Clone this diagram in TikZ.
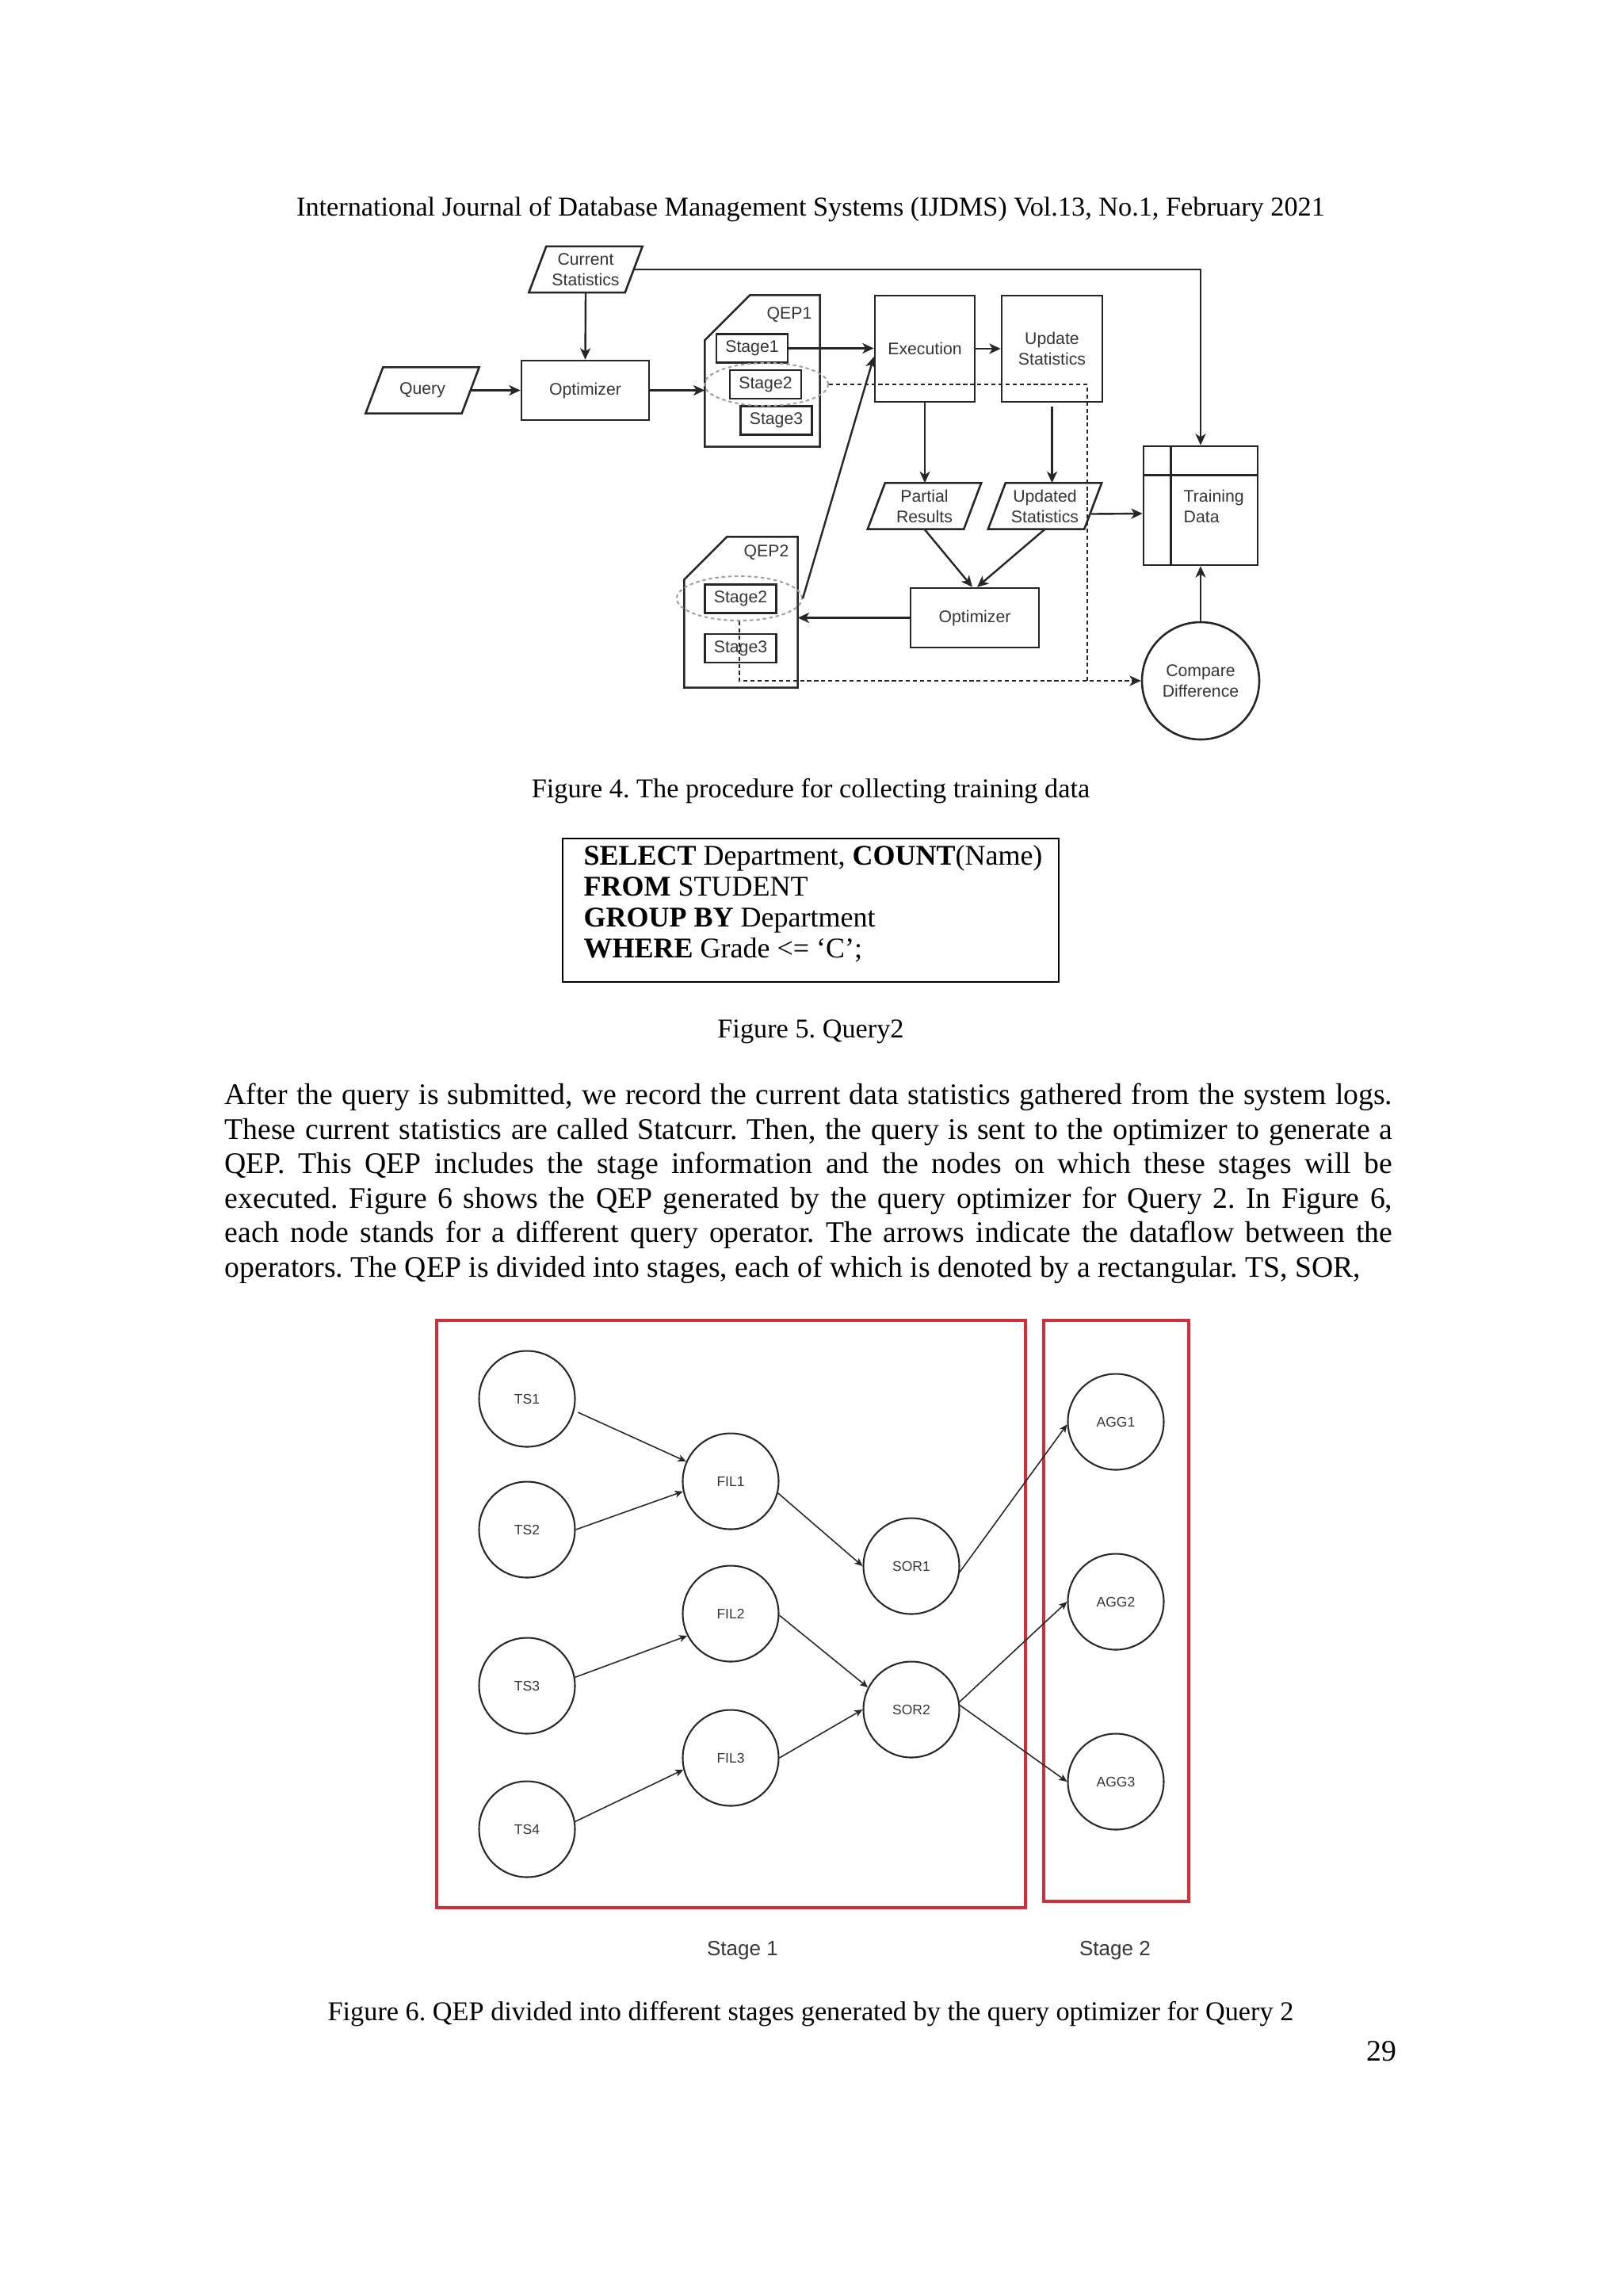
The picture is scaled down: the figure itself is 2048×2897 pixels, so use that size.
\documentclass[tikz,border=0pt]{standalone}
\usepackage{fontspec}
\setmainfont{Liberation Serif}
\newfontfamily\arial{Liberation Sans}
\usetikzlibrary{arrows.meta,calc,shapes.geometric,shadows}
\newdimen\pxu \pxu=0.102539mm
\definecolor{ink}{HTML}{262626}
\definecolor{lbl}{HTML}{363636}
\definecolor{redbox}{RGB}{205,50,60}
\newcommand\drawpara[1]{\draw[boxline] ($(#1.north west)+(11,0)$) -- ($(#1.north east)+(11,0)$) -- ($(#1.south east)+(-11,0)$) -- ($(#1.south west)+(-11,0)$) -- cycle;}
\frenchspacing
\begin{document}
\frenchspacing
\begin{tikzpicture}[x=0.102539mm, y=-0.102539mm,
  f4/.style={font=\arial\fontsize{6.2pt}{7.6pt}\selectfont, text=lbl},
  boxline/.style={draw=ink, line width=0.75pt},
  box/.style={f4, boxline, rectangle, inner sep=0pt, align=center},
  paranode/.style={f4, rectangle, inner sep=0pt, minimum width=120*\pxu, minimum height=57*\pxu, align=center},
  stagebox/.style={box, minimum width=90*\pxu, minimum height=36*\pxu},
  dellipse/.style={ellipse, draw=gray!75, line width=0.6pt, dash pattern=on 1.3pt off 1.1pt, inner sep=0pt},
  arr/.style={draw=ink, line width=0.7pt, -{Stealth[length=4.2pt,width=3.8pt,inset=1.2pt]}},
  dline/.style={draw=ink, line width=0.6pt, dash pattern=on 1.5pt off 1.1pt},
  opnode/.style={circle, draw=ink, line width=0.6pt, minimum size=121*\pxu, inner sep=0pt, font=\arial\fontsize{5.1pt}{6pt}\selectfont, text=lbl},
  a6/.style={draw=ink, line width=0.45pt, -{Stealth[length=3pt,width=2.6pt,inset=0.8pt]}},
  stagered/.style={draw=redbox, line width=1.2pt, fill=white, inner sep=0pt, drop shadow={shadow xshift=1pt, shadow yshift=-1pt, opacity=0.22}},
  bodyfont/.style={font=\fontsize{11pt}{12.65pt}\selectfont\frenchspacing, inner sep=0pt},
  capfont/.style={font=\fontsize{10pt}{11.5pt}\selectfont\frenchspacing, inner sep=0pt},
  sqlfont/.style={font=\fontsize{10.5pt}{11.2pt}\selectfont, inner sep=0pt}
]
\fill[white] (0,0) rectangle (2048,2897);
\useasboundingbox (0,0) rectangle (2048,2897);

% header
\node[capfont, anchor=base] (header) at (1023,272) {International Journal of Database Management Systems (IJDMS) Vol.13, No.1, February 2021};

% ---------------- Figure 4 ----------------
\node[paranode] (cur) at (739,340) {Current\\Statistics};
\drawpara{cur}
\node[paranode] (query) at (533,492.5) {Query};
\drawpara{query}
\node[box, minimum width=161*\pxu, minimum height=75*\pxu] (opt1) at (738.5,492.5) {Optimizer};

\node[rectangle, inner sep=0pt, minimum width=144*\pxu, minimum height=190*\pxu] (qep1) at (962,468) {};
\draw[boxline] ($(qep1.north west)+(57,0)$) -- (qep1.north east) -- (qep1.south east) -- (qep1.south west) -- ($(qep1.north west)+(0,57)$) -- cycle;
\node[f4] (qep1lbl) at (996,397) {QEP1};
\node[stagebox] (s11) at (949,439.5) {Stage1};
\node[stagebox] (s12) at (966,485) {Stage2};
\node[stagebox] (s13) at (979.5,530.5) {Stage3};
\node[dellipse, minimum width=156*\pxu, minimum height=54*\pxu] (el1) at (967,485) {};

\node[box, minimum width=126*\pxu, minimum height=134*\pxu] (exec) at (1167,440) {Execution};
\node[box, minimum width=127*\pxu, minimum height=134*\pxu] (updst) at (1327.5,440) {Update\\Statistics};

\node[paranode] (part) at (1166.5,638.5) {Partial\\Results};
\drawpara{part}
\node[paranode] (upd) at (1318.5,638.5) {Updated\\Statistics};
\drawpara{upd}

\node[box, minimum width=162*\pxu, minimum height=75*\pxu] (opt2) at (1230,779.5) {Optimizer};

\node[rectangle, inner sep=0pt, minimum width=142*\pxu, minimum height=189*\pxu] (qep2) at (935,772.5) {};
\draw[boxline] ($(qep2.north west)+(54,0)$) -- (qep2.north east) -- (qep2.south east) -- (qep2.south west) -- ($(qep2.north west)+(0,54)$) -- cycle;
\node[f4] (qep2lbl) at (967,697) {QEP2};
\node[stagebox] (s22) at (934.5,755.5) {Stage2};
\node[stagebox] (s23) at (934.5,818) {Stage3};
\node[dellipse, minimum width=158*\pxu, minimum height=56*\pxu] (el2) at (933,755) {};

\node[box, minimum width=144*\pxu, minimum height=150*\pxu] (train) at (1515,638) {};
\draw[boxline] ($(train.north west)+(36,0)$) -- ($(train.south west)+(36,0)$);
\draw[boxline] ($(train.north west)+(0,38)$) -- ($(train.north east)+(0,38)$);
\node[f4, anchor=west, align=left, inner sep=0pt] (trainlbl) at (1493,639) {Training\\Data};

\node[box, circle, minimum size=148*\pxu] (cmp) at (1515,859) {Compare\\Difference};

\coordinate (dc) at (1372,485);
\coordinate (dj) at (1372,859);

% connectors
\draw[arr] (cur.south) -- (opt1.north);
\draw[arr] (query.east) -- (opt1.west);
\draw[arr] (opt1.east) -- (opt1.east -| qep1.west);
\draw[arr] (cur.east) -| (train.north);
\draw[arr] (s11.east) -- (s11.east -| exec.west);
\draw[arr] (exec.east) -- (updst.west);
\draw[arr] (exec.south) -- (exec.south |- part.north);
\draw[arr, shorten <=1.5pt] (updst.south) -- (updst.south |- upd.north);
\draw[arr] (part.south) -- ($(opt2.north)+(-3,0)$);
\draw[arr] (upd.south) -- ($(opt2.north)+(3,0)$);
\draw[arr] ($(upd.east)+(-2,10)$) -- ($(train.west)+(0,10)$);
\draw[arr] (opt2.west) -- (opt2.west -| qep2.east);
\draw[arr] (el2.east) -- ($(exec.west)+(0,10)$);
\draw[arr] (cmp.north) -- (train.south);
\draw[dline] (el1.east) -- (dc) -- (dj);
\draw[dline, -{Stealth[length=4.2pt,width=3.8pt,inset=1.2pt]}] (el2.south) -- (el2.south |- dj) -- (cmp.west);

\node[capfont, anchor=base] (cap4) at (1023,1006) {Figure 4. The procedure for collecting training data};

% ---------------- Figure 5 ----------------
\node[draw=black, line width=0.8pt, minimum width=626*\pxu, minimum height=181*\pxu, inner sep=0pt] (sql) at (1023,1148.5) {};
\node[sqlfont, anchor=base west] (q1) at (736,1091) {\textbf{SELECT} Department, \textbf{COUNT}(Name)};
\node[sqlfont, anchor=base west] (q2) at (736,1130) {\textbf{FROM} STUDENT};
\node[sqlfont, anchor=base west] (q3) at (736,1169) {\textbf{GROUP BY} Department};
\node[sqlfont, anchor=base west] (q4) at (736,1208) {\textbf{WHERE} Grade <= ‘C’;};
\node[capfont, anchor=base] (cap5) at (1023,1309) {Figure 5. Query2};

% ---------------- body text ----------------
\node[bodyfont, anchor=base west] (b1) at (283,1393) {\makebox[429.9pt][s]{After the query is submitted, we record the current data statistics gathered from the system logs.}};
\node[bodyfont, anchor=base west] (b2) at (283,1437) {\makebox[429.9pt][s]{These current statistics are called Statcurr. Then, the query is sent to the optimizer to generate a}};
\node[bodyfont, anchor=base west] (b3) at (283,1480) {\makebox[429.9pt][s]{QEP. This QEP includes the stage information and the nodes on which these stages will be}};
\node[bodyfont, anchor=base west] (b4) at (283,1524) {\makebox[429.9pt][s]{executed. Figure 6 shows the QEP generated by the query optimizer for Query 2. In Figure 6,}};
\node[bodyfont, anchor=base west] (b5) at (283,1567) {\makebox[429.9pt][s]{each node stands for a different query operator. The arrows indicate the dataflow between the}};
\node[bodyfont, anchor=base west] (b6) at (283,1611) {operators. The QEP is divided into stages, each of which is denoted by a rectangular. TS, SOR,};

% ---------------- Figure 6 ----------------
\node[stagered, minimum width=743*\pxu, minimum height=741*\pxu] (st1) at (922.5,2036.5) {};
\node[stagered, minimum width=183*\pxu, minimum height=733*\pxu] (st2) at (1408.5,2032.5) {};

\node[opnode] (ts1) at (665,1765) {TS1};
\node[opnode] (ts2) at (665,1930) {TS2};
\node[opnode] (ts3) at (665,2127) {TS3};
\node[opnode] (ts4) at (665,2308) {TS4};
\node[opnode] (fil1) at (922,1869) {FIL1};
\node[opnode] (fil2) at (922,2036) {FIL2};
\node[opnode] (fil3) at (922,2218) {FIL3};
\node[opnode] (sor1) at (1150,1976) {SOR1};
\node[opnode] (sor2) at (1150,2157) {SOR2};
\node[opnode] (agg1) at (1408,1794) {AGG1};
\node[opnode] (agg2) at (1408,2021) {AGG2};
\node[opnode] (agg3) at (1408,2248) {AGG3};

\draw[a6, shorten <=1.5pt] (ts1.-14) -- (fil1.156);
\draw[a6] (ts2.0) -- (fil1.192);
\draw[a6] (fil1.-14) -- (sor1.180);
\draw[a6] (ts3.10) -- (fil2.207);
\draw[a6] (ts4.9) -- (fil3.194);
\draw[a6] (fil2.-2) -- (sor2.153);
\draw[a6] (fil3.0) -- (sor2.180);
\draw[a6] (sor1.-7) -- (agg1.183);
\draw[a6] (sor2.9) -- (agg2.180);
\draw[a6] (sor2.5) -- (agg3.180);

\node[font=\arial\fontsize{7.6pt}{9pt}\selectfont, text=lbl, anchor=base, inner sep=0pt] (lab1) at (937,2467) {Stage 1};
\node[font=\arial\fontsize{7.6pt}{9pt}\selectfont, text=lbl, anchor=base, inner sep=0pt] (lab2) at (1407,2467) {Stage 2};

\node[capfont, anchor=base] (cap6) at (1023,2549) {Figure 6. QEP divided into different stages generated by the query optimizer for Query 2};
\node[bodyfont, anchor=base east] (pg) at (1763,2600) {29};
\end{tikzpicture}
\end{document}
